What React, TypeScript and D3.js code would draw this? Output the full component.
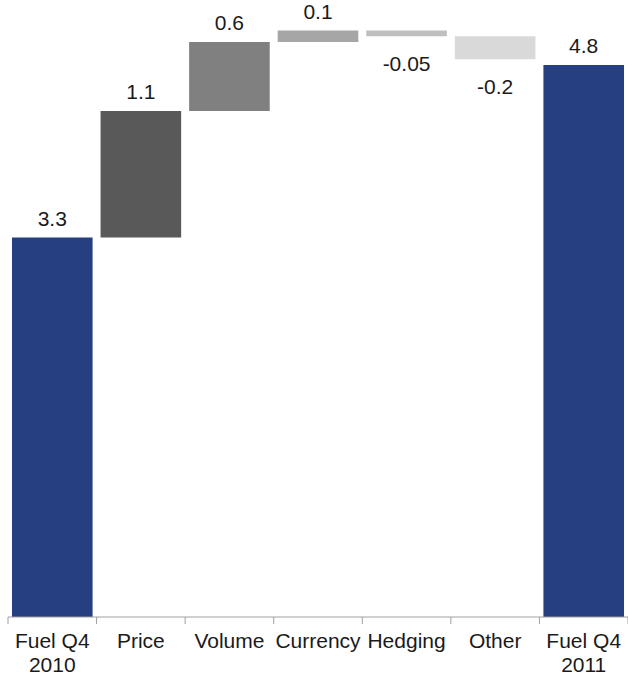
import React from "react";
import * as d3 from "d3";

const categories = ["Fuel Q4|2010", "Price", "Volume", "Currency", "Hedging", "Other", "Fuel Q4|2011"];
const values = [3.3, 1.1, 0.6, 0.1, -0.05, -0.2, 4.8];
const valueLabels = ["3.3", "1.1", "0.6", "0.1", "-0.05", "-0.2", "4.8"];
const kinds = ["total", "delta", "delta", "delta", "delta", "delta", "total"];
const colors = ["#263f81", "#595959", "#808080", "#a6a6a6", "#bfbfbf", "#d9d9d9", "#263f81"];

const W = 628;
const H = 676;
const FONT = "'Liberation Sans', Arial, sans-serif";
const FS = 21;

export default function App() {
  const x = d3.scaleBand<string>().domain(categories).range([8, 628]).paddingInner(0.09).paddingOuter(0.045);
  const y = d3.scaleLinear().domain([0, 5]).range([617, 42]);

  // running totals for the waterfall steps
  let running = 0;
  const bars = categories.map((c, i) => {
    let lo: number, hi: number;
    if (kinds[i] === "total") {
      lo = 0;
      hi = values[i];
      running = values[i];
    } else {
      const start = running;
      running = start + values[i];
      lo = Math.min(start, running);
      hi = Math.max(start, running);
    }
    return { c, lo, hi, v: values[i], label: valueLabels[i], color: colors[i] };
  });

  const step = x.step();
  const x0 = x.range()[0];
  const tickXs = d3.range(categories.length + 1).map((i) => x0 + i * step);
  const axisY = y(0);

  return (
    <svg width={W} height={H} style={{ position: "absolute", left: 0, top: 0, background: "#fff" }} fontFamily={FONT}>
      {bars.map((b, i) => {
        const bx = x(b.c)!;
        const top = y(b.hi);
        const bottom = y(b.lo);
        const cx = bx + x.bandwidth() / 2;
        const ly = b.v >= 0 ? top - 12 : bottom + 35;
        return (
          <g key={i}>
            <rect x={bx} y={top} width={x.bandwidth()} height={Math.max(1, bottom - top)} fill={b.color} />
            <text x={cx} y={ly} textAnchor="middle" fontSize={FS} fill="#1a1a1a">
              {b.label}
            </text>
          </g>
        );
      })}
      <line x1={x0} x2={x0 + step * categories.length} y1={axisY} y2={axisY} stroke="#a0a0a0" strokeWidth={1} />
      {tickXs.map((tx, i) => (
        <line key={i} x1={tx} x2={tx} y1={axisY} y2={axisY + 7} stroke="#a0a0a0" strokeWidth={1} />
      ))}
      {categories.map((c, i) => {
        const lines = c.split("|");
        const cx = x(c)! + x.bandwidth() / 2;
        return (
          <text key={i} x={cx} textAnchor="middle" fontSize={FS} fill="#1a1a1a">
            {lines.map((l, j) => (
              <tspan key={j} x={cx} y={648 + j * 24}>
                {l}
              </tspan>
            ))}
          </text>
        );
      })}
    </svg>
  );
}
